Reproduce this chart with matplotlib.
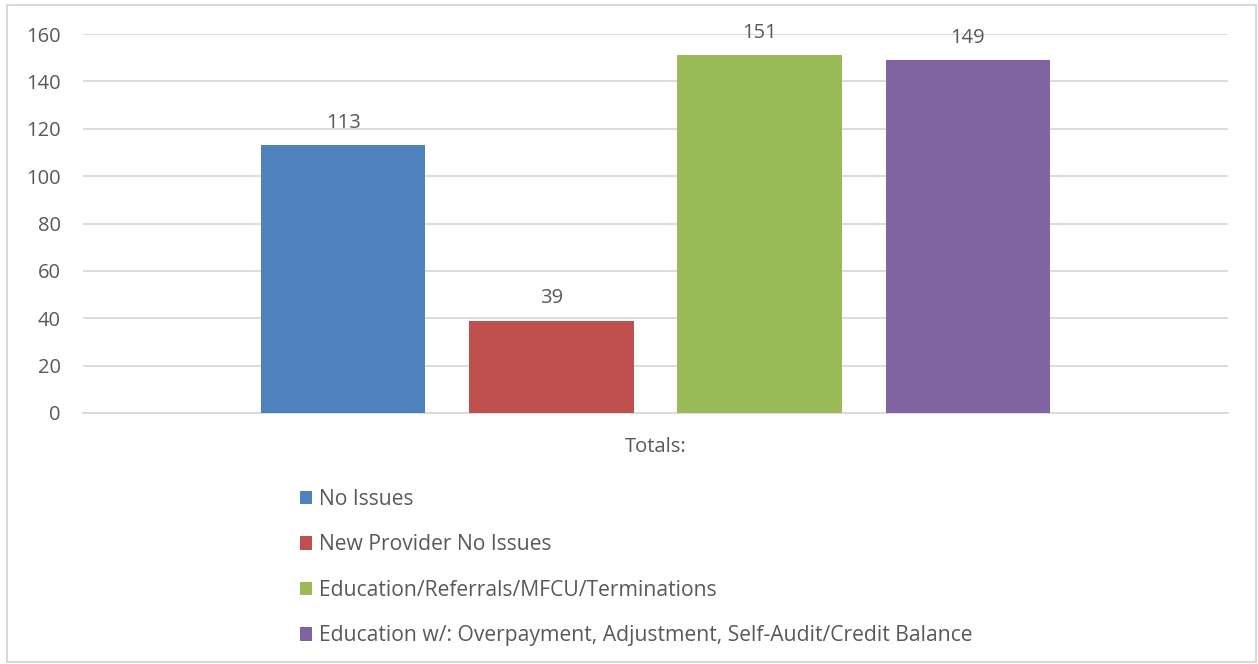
import matplotlib.pyplot as plt
from matplotlib.patches import Rectangle
import numpy as np

# data
categories = ['No Issues', 'New Provider No Issues',
              'Education/Referrals/MFCU/Terminations',
              'Education w/: Overpayment, Adjustment, Self-Audit/Credit Balance']
totals = [113, 39, 151, 149]
colors = ['#4F81BD', '#C0504D', '#9BBB59', '#8064A2']
group_label = 'Totals:'
yticks = [0, 20, 40, 60, 80, 100, 120, 140, 160]

plt.rcParams['font.family'] = ['Open Sans', 'DejaVu Sans']
text_col = '#595959'
grid_col = '#D9D9D9'
fs = 14.5


def main():
    fig = plt.figure(figsize=(12.58, 6.64), dpi=100)
    ax = fig.add_axes([83 / 1258, 251 / 664, 1145 / 1258, 379 / 664])

    # outer border
    fig.patches.append(Rectangle((7 / 1258, 2 / 664), 1249 / 1258, 657 / 664,
                                 transform=fig.transFigure, fill=False,
                                 edgecolor=grid_col, linewidth=1.5))

    x = np.arange(len(totals)) - (len(totals) - 1) / 2
    for xi, v, c, lab in zip(x, totals, colors, categories):
        bars = ax.bar(xi, v, 0.79, color=c, label=lab, zorder=3)
        ax.bar_label(bars, padding=9, fontsize=fs, color=text_col)

    # tune and format plot
    ax.set_xlim(-2.75, 2.75)
    ax.set_ylim(0, 160)
    ax.set_yticks(yticks)
    ax.set_xticks([0], [group_label])
    ax.tick_params(axis='x', length=0, pad=17, labelsize=fs, labelcolor=text_col)
    ax.tick_params(axis='y', length=0, pad=16, labelsize=fs, labelcolor=text_col)
    ax.grid(axis='y', color=grid_col, linewidth=1.3, zorder=0)
    for s in ['top', 'right', 'left']:
        ax.spines[s].set_visible(False)
    ax.spines['bottom'].set_color(grid_col)
    ax.spines['bottom'].set_linewidth(1.3)

    fig.legend(loc='upper left', bbox_to_anchor=(300 / 1258, 1 - 489 / 664),
               frameon=False, fontsize=15.2, labelcolor=text_col,
               borderpad=0, borderaxespad=0,
               handlelength=0.58, handleheight=0.58, handletextpad=0.33,
               labelspacing=1.16)

    fig.savefig('out.png', dpi=100)


if __name__ == '__main__':
    main()
